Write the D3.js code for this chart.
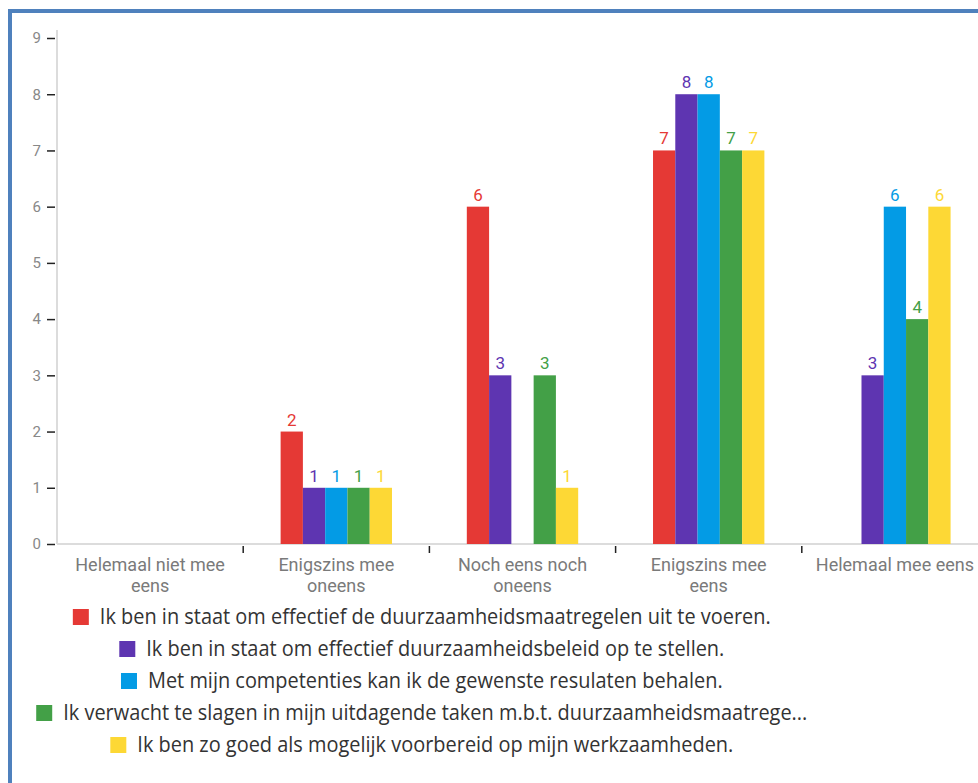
<!DOCTYPE html>
<html>
<head>
<meta charset="utf-8">
<script src="https://cdn.jsdelivr.net/npm/d3@7"></script>
<style>
  html, body { margin: 0; padding: 0; background: #fff; overflow: hidden; }
  svg { display: block; }
</style>
</head>
<body>
<svg id="chart" width="978" height="783"></svg>
<script>
// Answer categories (x axis) and their wrapped tick labels
const categories = [
  "Helemaal niet mee eens",
  "Enigszins mee oneens",
  "Noch eens noch oneens",
  "Enigszins mee eens",
  "Helemaal mee eens"
];
const categoryLabelLines = [
  ["Helemaal niet mee", "eens"],
  ["Enigszins mee", "oneens"],
  ["Noch eens noch", "oneens"],
  ["Enigszins mee", "eens"],
  ["Helemaal mee eens"]
];

// Statements (series), in legend order
const seriesNames = [
  "Ik ben in staat om effectief de duurzaamheidsmaatregelen uit te voeren.",
  "Ik ben in staat om effectief duurzaamheidsbeleid op te stellen.",
  "Met mijn competenties kan ik de gewenste resulaten behalen.",
  "Ik verwacht te slagen in mijn uitdagende taken m.b.t. duurzaamheidsmaatrege...",
  "Ik ben zo goed als mogelijk voorbereid op mijn werkzaamheden."
];
const seriesColors = ["#e53935", "#5e35b1", "#039be5", "#43a047", "#fdd835"];

// Counts per category for each statement
const uitvoeren   = [0, 2, 6, 7, 0];
const beleid      = [0, 1, 3, 8, 3];
const competentie = [0, 1, 0, 8, 6];
const slagen      = [0, 1, 3, 7, 4];
const voorbereid  = [0, 1, 1, 7, 6];
const seriesValues = [uitvoeren, beleid, competentie, slagen, voorbereid];

const yTicks = [0, 1, 2, 3, 4, 5, 6, 7, 8, 9];

const svg = d3.select("#chart");
const axisFont = "Roboto, 'DejaVu Sans', sans-serif";
const legendFont = "'Open Sans', 'Noto Sans', sans-serif";

// Outer frame
svg.append("rect")
  .attr("x", 10).attr("y", 11)
  .attr("width", 1100).attr("height", 1100)
  .attr("fill", "none")
  .attr("stroke", "#4f81bd")
  .attr("stroke-width", 4);

const plot = { left: 57, right: 988, top: 38, bottom: 544 };

const x0 = d3.scaleBand().domain(categories).range([plot.left, plot.right]).padding(0);
const x1 = d3.scaleBand().domain(d3.range(seriesNames.length))
  .range([0, x0.bandwidth()]).paddingInner(0).paddingOuter(1.68);
const y = d3.scaleLinear().domain([0, 9]).range([plot.bottom, plot.top]);

// Y axis
const yAxis = svg.append("g")
  .attr("transform", `translate(${plot.left},0)`)
  .call(d3.axisLeft(y).tickValues(yTicks).tickSize(10).tickPadding(6).tickFormat(d3.format("d")));
yAxis.select(".domain").attr("stroke", "#dcdcdc").attr("stroke-width", 2)
  .attr("d", `M0,${plot.top - 8}V${plot.bottom}`);
yAxis.selectAll(".tick line").attr("stroke", "#222").attr("stroke-width", 1.5).attr("x2", -10).attr("x1", -2);
yAxis.selectAll(".tick text").attr("fill", "#888").style("font-family", axisFont).style("font-size", "15px");

// X axis baseline and band separators
svg.append("line")
  .attr("x1", plot.left).attr("x2", plot.right)
  .attr("y1", plot.bottom).attr("y2", plot.bottom)
  .attr("stroke", "#dcdcdc").attr("stroke-width", 2);

svg.append("g").selectAll("line")
  .data(categories.slice(1))
  .join("line")
  .attr("x1", d => x0(d)).attr("x2", d => x0(d))
  .attr("y1", plot.bottom + 2).attr("y2", plot.bottom + 9)
  .attr("stroke", "#222").attr("stroke-width", 1.5);

// Category labels
const catLabels = svg.append("g").selectAll("text")
  .data(categories)
  .join("text")
  .attr("x", d => x0(d) + x0.bandwidth() / 2)
  .attr("y", plot.bottom + 27)
  .attr("text-anchor", "middle")
  .attr("fill", "#7a7a7a")
  .style("font-family", axisFont)
  .style("font-size", "18px");
catLabels.each(function(d, i) {
  d3.select(this).selectAll("tspan")
    .data(categoryLabelLines[i])
    .join("tspan")
    .attr("x", x0(d) + x0.bandwidth() / 2)
    .attr("dy", (t, j) => j === 0 ? 0 : 21)
    .text(t => t);
});

// Bars and value labels
const groups = svg.append("g").selectAll("g")
  .data(categories)
  .join("g")
  .attr("transform", d => `translate(${x0(d)},0)`);

groups.each(function(cat, ci) {
  const g = d3.select(this);
  const pts = seriesValues.map((vals, si) => ({ si, v: vals[ci] })).filter(p => p.v > 0);
  g.selectAll("rect")
    .data(pts)
    .join("rect")
    .attr("x", p => x1(p.si))
    .attr("y", p => y(p.v))
    .attr("width", x1.bandwidth())
    .attr("height", p => y(0) - y(p.v))
    .attr("fill", p => seriesColors[p.si]);
  g.selectAll("text")
    .data(pts)
    .join("text")
    .attr("x", p => x1(p.si) + x1.bandwidth() / 2)
    .attr("y", p => y(p.v) - 6)
    .attr("text-anchor", "middle")
    .attr("fill", p => seriesColors[p.si])
    .style("font-family", axisFont)
    .style("font-size", "17px")
    .text(p => p.v);
});

// Legend: one centred row per statement, in a slightly narrowed face
const legendCenter = 422;
const legendTop = 617;
const legendStep = 32;
const narrow = 0.95;
seriesNames.forEach((name, i) => {
  const cy = legendTop + i * legendStep;
  const row = svg.append("g");
  const txt = row.append("text")
    .attr("dy", "0.35em")
    .attr("fill", "#333")
    .style("font-family", legendFont)
    .style("font-size", "21px")
    .text(name);
  const tw = txt.node().getComputedTextLength() * narrow;
  const sw = 16, gap = 11;
  const total = sw + gap + tw;
  const startX = legendCenter - total / 2;
  row.insert("rect", "text")
    .attr("x", startX)
    .attr("y", cy - 8)
    .attr("width", sw).attr("height", 16)
    .attr("fill", seriesColors[i]);
  txt.attr("transform", `translate(${startX + sw + gap},${cy}) scale(${narrow},1)`);
});
</script>
</body>
</html>
